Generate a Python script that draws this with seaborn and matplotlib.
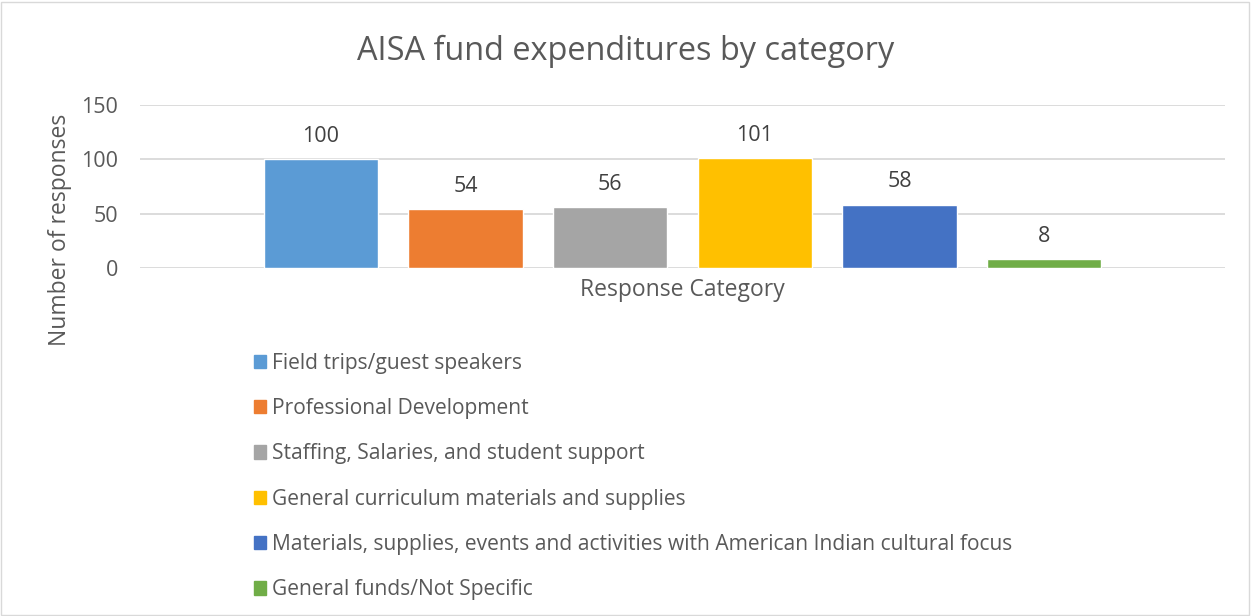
import pandas as pd
import matplotlib.pyplot as plt
import matplotlib.patches as mpatches
import seaborn as sns

# Data
categories = [
    'Field trips/guest speakers',
    'Professional Development',
    'Staffing, Salaries, and student support',
    'General curriculum materials and supplies',
    'Materials, supplies, events and activities with American Indian cultural focus',
    'General funds/Not Specific',
]
responses = [100, 54, 56, 101, 58, 8]
colors = ['#5B9BD5', '#ED7D31', '#A5A5A5', '#FFC000', '#4472C4', '#70AD47']
yticks = [0, 50, 100, 150]

df = pd.DataFrame({'category': categories, 'responses': responses})

sns.set_style('white')
plt.rcParams['font.family'] = ['Open Sans', 'DejaVu Sans']
text_color = '#595959'

fig = plt.figure(figsize=(12.52, 6.16), dpi=100)
ax = fig.add_axes([0.1118, 0.565, 0.8666, 0.2645])

sns.barplot(data=df, x='category', y='responses', hue='category',
            palette=colors, width=0.79, legend=False, ax=ax, saturation=1)

for cont in ax.containers:
    ax.bar_label(cont, padding=9, fontsize=15.5, color='#404040')

ax.set_xlim(-1.25, 6.25)
ax.set_ylim(0, 150)
ax.set_yticks(yticks)
ax.set_xticks([])
ax.tick_params(axis='y', labelsize=15.5, labelcolor=text_color, length=0, pad=16)
ax.yaxis.grid(True, color='#D9D9D9', linewidth=1.3)
ax.set_axisbelow(True)
sns.despine(ax=ax, left=True, bottom=True)

ax.set_xlabel('Response Category', fontsize=16.5, color=text_color, labelpad=7)
ax.set_ylabel('')
fig.text(0.048, 0.627, 'Number of responses', rotation=90, fontsize=16.5,
         color=text_color, ha='center', va='center')

fig.suptitle('AISA fund expenditures by category', fontsize=23.4,
             color=text_color, y=0.917, va='center')

handles = [mpatches.Patch(color=c, label=l) for c, l in zip(colors, categories)]
fig.legend(handles=handles, loc='upper left', bbox_to_anchor=(0.196, 0.441),
           frameon=False, fontsize=15.1, labelcolor=text_color,
           handlelength=0.6, handleheight=0.6, handletextpad=0.25,
           labelspacing=1.16, borderaxespad=0)

# Chart border
fig.add_artist(mpatches.Rectangle((0.001, 0.002), 0.997, 0.995,
                                  transform=fig.transFigure, fill=False,
                                  edgecolor='#D9D9D9', linewidth=1))

plt.savefig('out.png', dpi=100)
